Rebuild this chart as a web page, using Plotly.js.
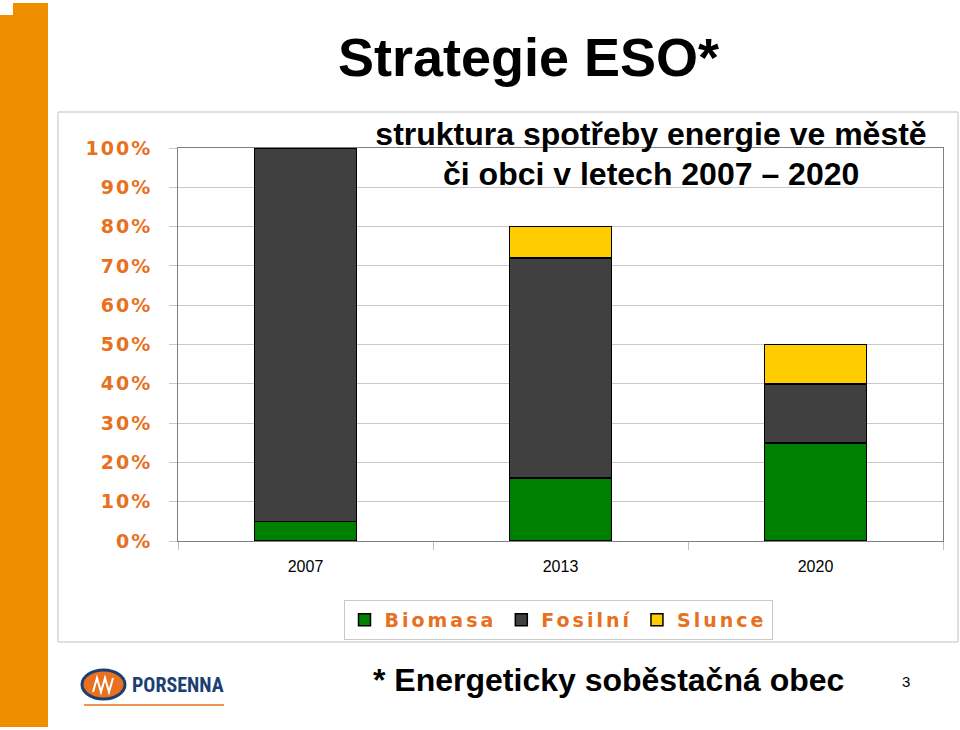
<!DOCTYPE html>
<html>
<head>
<meta charset="utf-8">
<script src="https://cdn.plot.ly/plotly-3.0.1.min.js"></script>
<style>html,body{margin:0;padding:0;background:#fff;}#chart{width:960px;height:730px;}</style>
</head>
<body>
<div id="chart"></div>
<script>
// ---- data ----
const categories = ['2007', '2013', '2020'];
const biomasa = [5, 16, 25];
const fosilni = [95, 56, 15];
const slunce = [null, 8, 10];
const seriesNames = ['Biomasa', 'Fosilní', 'Slunce'];
const yTickVals = [0, 10, 20, 30, 40, 50, 60, 70, 80, 90, 100];
const yTickLabels = ['0%', '10%', '20%', '30%', '40%', '50%', '60%', '70%', '80%', '90%', '100%'];
const slideTitle = 'Strategie ESO*';
const chartTitleLine1 = 'struktura spotřeby energie ve městě';
const chartTitleLine2 = 'či obci v letech 2007 – 2020';
const footnote = '* Energeticky soběstačná obec';
const pageNumber = '3';
const logoText = 'PORSENNA';

// ---- helpers (pixel -> paper) ----
const W = 960, H = 730;
const px = x => x / W;
const py = y => 1 - y / H;

const ORANGE_TXT = '#E8701E';
const spaced = (s, n) => '<span style="letter-spacing:' + n + 'px">' + s + '</span>';

const colors = ['#008000', '#404040', '#FFCC00'];
const vals = [biomasa, fosilni, slunce];
const traces = vals.map((v, i) => ({
  type: 'bar',
  x: categories,
  y: v,
  name: spaced(seriesNames[i], 3),
  marker: {color: colors[i], line: {color: '#000000', width: 1.5}},
  hoverinfo: 'skip'
}));

const shapes = [
  // orange slide band
  {type: 'rect', xref: 'paper', yref: 'paper', x0: px(13), x1: px(48), y0: py(727), y1: py(3), fillcolor: '#EF8F00', line: {width: 0}, layer: 'below'},
  {type: 'rect', xref: 'paper', yref: 'paper', x0: px(0), x1: px(13), y0: py(727), y1: py(15), fillcolor: '#EF8F00', line: {width: 0}, layer: 'below'},
  // chart frame
  {type: 'rect', xref: 'paper', yref: 'paper', x0: px(58), x1: px(958), y0: py(642), y1: py(112), line: {color: '#C0C0C0', width: 1}, layer: 'below'},
  // logo ellipse
  {type: 'circle', xref: 'paper', yref: 'paper', x0: px(82), x1: px(125), y0: py(699), y1: py(670), fillcolor: '#E8701E', line: {color: '#1C3F73', width: 3}},
  // logo mark
  {type: 'path', xref: 'paper', yref: 'paper',
   path: 'M' + px(93) + ',' + py(692) + ' L' + px(97) + ',' + py(678) + ' L' + px(101) + ',' + py(692) + ' L' + px(105) + ',' + py(678) + ' L' + px(109) + ',' + py(692) + ' L' + px(113) + ',' + py(678),
   line: {color: '#FFFFFF', width: 2}},
  // logo underline
  {type: 'line', xref: 'paper', yref: 'paper', x0: px(84), x1: px(224), y0: py(705), y1: py(705), line: {color: '#E8701E', width: 1.5}}
];

const annotations = [
  {text: '<b>' + slideTitle + '</b>', xref: 'paper', yref: 'paper', x: px(528), y: py(57), xanchor: 'center', yanchor: 'middle', showarrow: false,
   font: {family: 'Liberation Sans, Arial, sans-serif', size: 54, color: '#000000'}},
  {text: '<b>' + chartTitleLine2 + '</b>', xref: 'paper', yref: 'paper', x: px(651), y: py(174), xanchor: 'center', yanchor: 'middle', showarrow: false,
   font: {family: 'Liberation Sans, Arial, sans-serif', size: 32, color: '#000000'}},
  {text: '<b>' + footnote + '</b>', xref: 'paper', yref: 'paper', x: px(608), y: py(680), xanchor: 'center', yanchor: 'middle', showarrow: false,
   font: {family: 'Liberation Sans, Arial, sans-serif', size: 32, color: '#000000'}},
  {text: pageNumber, xref: 'paper', yref: 'paper', x: px(906), y: py(681), xanchor: 'center', yanchor: 'middle', showarrow: false,
   font: {family: 'Liberation Sans, Arial, sans-serif', size: 15, color: '#000000'}},
  {text: '<b>' + logoText + '</b>', xref: 'paper', yref: 'paper', x: px(178), y: py(685), xanchor: 'center', yanchor: 'middle', showarrow: false,
   font: {family: 'Liberation Sans Narrow, Roboto Condensed, Liberation Sans, Arial, sans-serif', size: 20, color: '#1C3F73'}}
];

const layout = {
  width: W, height: H,
  margin: {l: 0, r: 0, t: 0, b: 0},
  paper_bgcolor: '#FFFFFF',
  plot_bgcolor: '#FFFFFF',
  barmode: 'stack',
  bargap: 0.6,
  showlegend: true,
  title: {
    text: '<b>' + chartTitleLine1 + '</b>',
    xref: 'paper', yref: 'paper',
    x: px(651), xanchor: 'center',
    y: py(134), yanchor: 'middle',
    font: {family: 'Liberation Sans, Arial, sans-serif', size: 32, color: '#000000'}
  },
  xaxis: {
    domain: [px(178), px(943)],
    type: 'category',
    showline: true, mirror: true, linecolor: '#808080', linewidth: 1,
    showgrid: false,
    ticks: 'outside', tickson: 'boundaries', ticklen: 8, tickcolor: '#C0C0C0',
    tickfont: {family: 'Liberation Sans, Arial, sans-serif', size: 16, color: '#000000'},
    ticklabelstandoff: 11,
    automargin: false, fixedrange: true
  },
  yaxis: {
    domain: [py(541), py(148)],
    range: [0, 100],
    tickvals: yTickVals,
    ticktext: yTickLabels.map(t => spaced(t, 2)),
    showline: true, mirror: true, linecolor: '#808080', linewidth: 1,
    showgrid: true, gridcolor: '#C8C8C8', gridwidth: 1,
    zeroline: false,
    ticks: 'outside', ticklen: 8, tickcolor: '#C8C8C8',
    tickfont: {family: 'DejaVu Sans, Verdana, sans-serif', size: 19, color: ORANGE_TXT, weight: 'bold'},
    ticklabelstandoff: 13,
    automargin: false, fixedrange: true
  },
  legend: {
    orientation: 'h',
    xref: 'paper', yref: 'paper',
    x: px(558), xanchor: 'center',
    y: py(600), yanchor: 'top',
    bgcolor: '#FFFFFF',
    bordercolor: '#C8C8C8', borderwidth: 1,
    font: {family: 'DejaVu Sans, Verdana, sans-serif', size: 19, color: ORANGE_TXT, weight: 'bold'},
    traceorder: 'normal',
    itemclick: false, itemdoubleclick: false
  },
  shapes: shapes,
  annotations: annotations
};

Plotly.newPlot('chart', traces, layout, {displayModeBar: false, staticPlot: true});
</script>
</body>
</html>
